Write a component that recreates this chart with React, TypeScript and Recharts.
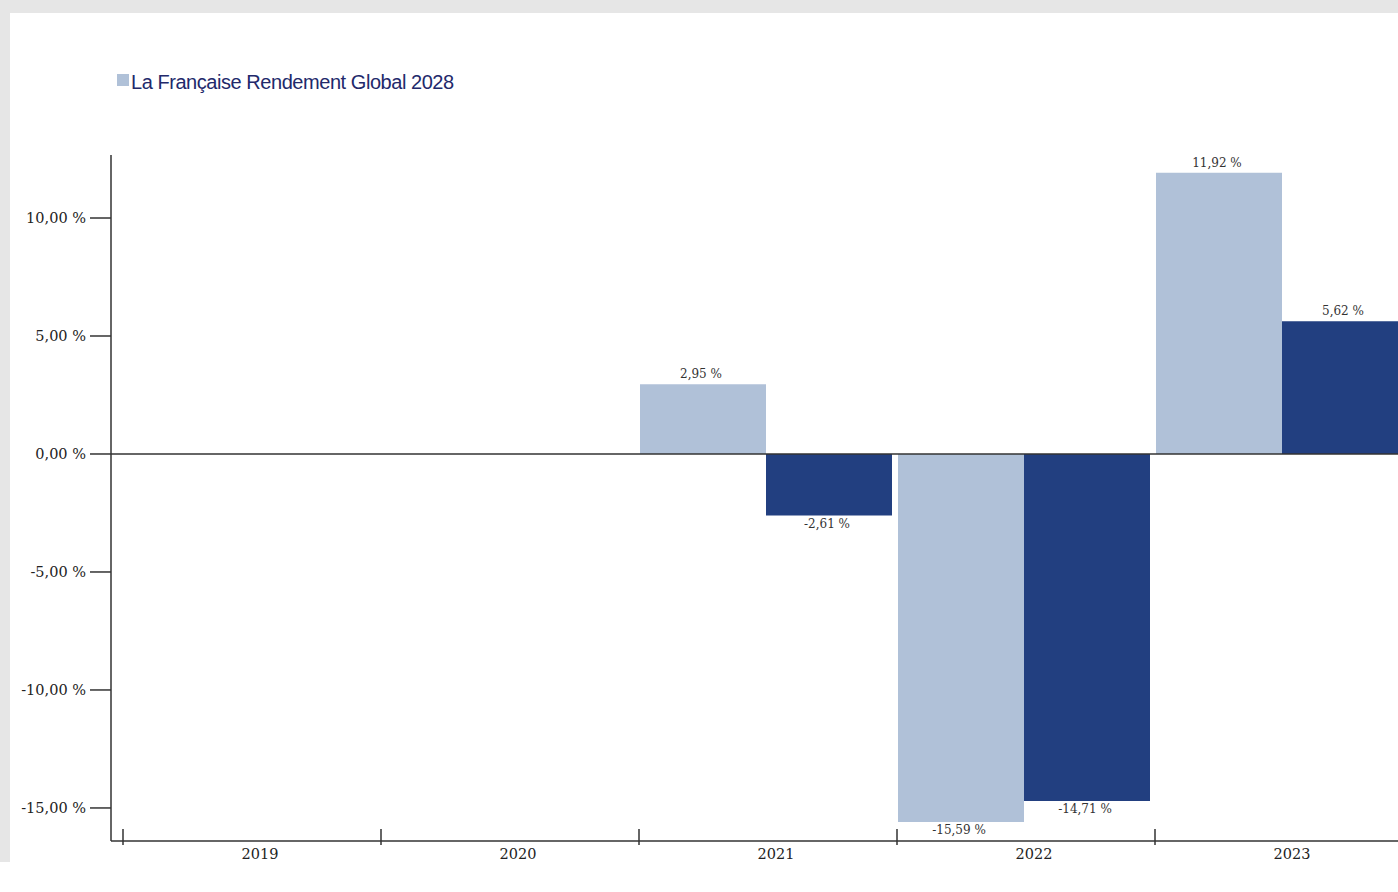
import React from 'react';
import { BarChart, Bar, XAxis, YAxis, ReferenceLine, LabelList } from 'recharts';

const years = ['2019', '2020', '2021', '2022', '2023'];
const fundReturns = [null, null, 2.95, -15.59, 11.92];
const benchmarkReturns = [null, null, -2.61, -14.71, 5.62];
const yTicks = [-15, -10, -5, 0, 5, 10];
const fundName = 'La Française Rendement Global 2028';
const benchmarkName = 'Indicateur de référence';

const LIGHT = '#b0c1d8';
const DARK = '#223f80';
const AXIS = '#333333';
const SERIF = '"DejaVu Serif", serif';

const fmt = (v: number) => v.toFixed(2).replace('.', ',') + ' %';

const data = years.map((year, i) => ({
  year,
  fund: fundReturns[i],
  benchmark: benchmarkReturns[i],
}));

// tick mark sits on the left boundary of each year, label slightly right of center
const YearTick = (props: any) => {
  const { x, y, payload } = props;
  return (
    <g>
      <line x1={x - 127} x2={x - 127} y1={y - 12} y2={y + 4} stroke={AXIS} strokeWidth={1.5} />
      <text x={x + 10} y={y + 18} textAnchor="middle" fontFamily={SERIF} fontSize={14.5} fill="#222">
        {payload.value}
      </text>
    </g>
  );
};

const PercentTick = (props: any) => {
  const { x, y, payload } = props;
  return (
    <text x={x} y={y} dy={5} textAnchor="end" fontFamily={SERIF} fontSize={14.5} fill="#222">
      {fmt(payload.value)}
    </text>
  );
};

const ValueLabel = (props: any) => {
  const { x, y, width, height, value } = props;
  if (value === null || value === undefined) return null;
  const top = Math.min(y, y + height);
  const bottom = Math.max(y, y + height);
  const ty = value >= 0 ? top - 6 : bottom + 12;
  return (
    <text x={x + width / 2 - 2} y={ty} textAnchor="middle" fontFamily={SERIF} fontSize={12} fill="#333">
      {fmt(value)}
    </text>
  );
};

export default function App() {
  return (
    <div
      style={{
        position: 'absolute',
        left: 0,
        top: 0,
        width: 1398,
        height: 892,
        overflow: 'hidden',
        background: '#ffffff',
      }}
    >
      <div style={{ position: 'absolute', left: 0, top: 0, width: 1398, height: 13, background: '#e6e6e6' }} />
      <div style={{ position: 'absolute', left: 0, top: 0, width: 10, height: 862, background: '#e6e6e6' }} />

      {/* legend: only the fund is listed in the original */}
      <div style={{ position: 'absolute', left: 117, top: 74, width: 12, height: 12, background: LIGHT }} />
      <div
        style={{
          position: 'absolute',
          left: 131,
          top: 72,
          fontFamily: '"Liberation Sans", Arial, sans-serif',
          fontSize: 20,
          lineHeight: '20px',
          letterSpacing: -0.45,
          color: '#22296b',
          whiteSpace: 'nowrap',
        }}
      >
        {fundName}
      </div>

      <div style={{ position: 'absolute', left: 0, top: 1 }}>
        <BarChart
          width={1411}
          height={891}
          data={data}
          margin={{ top: 154, right: 0, bottom: 11, left: 0 }}
          barCategoryGap={3}
          barGap={0}
        >
          <XAxis
            dataKey="year"
            height={40}
            padding={{ left: 10, right: 0 }}
            axisLine={{ stroke: AXIS, strokeWidth: 1.5 }}
            tickLine={false}
            tickSize={0}
            tickMargin={0}
            interval={0}
            tick={<YearTick />}
          />
          <YAxis
            width={111}
            domain={[-16.4, 12.67]}
            ticks={yTicks}
            allowDataOverflow
            axisLine={{ stroke: AXIS, strokeWidth: 1.5 }}
            tickLine={{ stroke: AXIS, strokeWidth: 1.5 }}
            tickSize={21}
            tickMargin={4}
            tick={<PercentTick />}
          />
          <Bar dataKey="fund" name={fundName} fill={LIGHT} isAnimationActive={false}>
            <LabelList dataKey="fund" content={<ValueLabel />} />
          </Bar>
          <Bar dataKey="benchmark" name={benchmarkName} fill={DARK} isAnimationActive={false}>
            <LabelList dataKey="benchmark" content={<ValueLabel />} />
          </Bar>
          <ReferenceLine y={0} stroke={AXIS} strokeWidth={1.5} />
        </BarChart>
      </div>
    </div>
  );
}
